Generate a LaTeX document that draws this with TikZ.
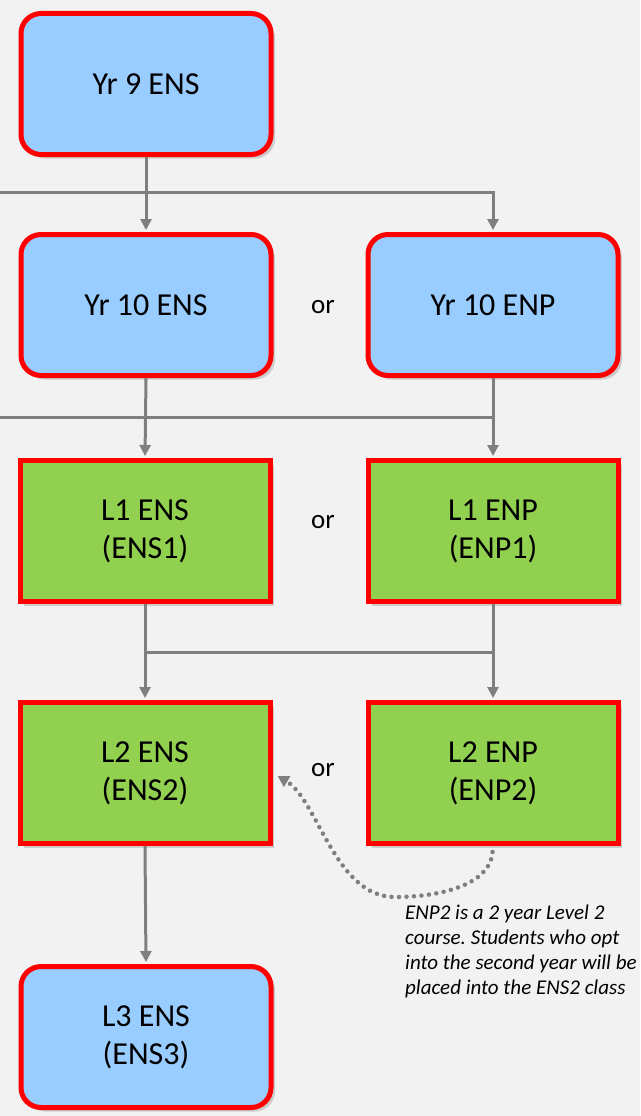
\documentclass[tikz,border=0pt]{standalone}
\usepackage{fontspec}
\setmainfont{Carlito}
\usetikzlibrary{arrows.meta,shadows}
\definecolor{bg}{HTML}{F2F2F2}
\definecolor{boxblue}{HTML}{99CCFF}
\definecolor{boxgreen}{HTML}{92D050}
\definecolor{boxred}{HTML}{FF0000}
\definecolor{linegray}{HTML}{7F7F7F}
\definecolor{dotgray}{HTML}{7F7F7F}
\frenchspacing
\tikzset{
  base/.style={draw=boxred, line width=5pt, minimum width=250pt, minimum height=141pt,
    align=center, font=\fontsize{32}{38}\selectfont, inner sep=0pt,
    drop shadow={shadow xshift=4pt, shadow yshift=-4pt, fill=black!20, opacity=1}},
  bluebox/.style={base, fill=boxblue, rounded corners=20pt},
  greenbox/.style={base, fill=boxgreen},
  conn/.style={draw=linegray, line width=3pt, -{Triangle[width=11pt,length=11pt]}},
  plain/.style={draw=linegray, line width=3pt},
  ortext/.style={font=\fontsize{27}{32}\selectfont},
  note/.style={font=\itshape\fontsize{21}{25}\selectfont, align=left, anchor=north west, inner sep=0pt},
  dotted arrow/.style={draw=dotgray, line width=4.5pt, line cap=round, dash pattern=on 0pt off 7.5pt,
    -{Triangle[width=12pt,length=11pt]}}
}
\begin{document}
\begin{tikzpicture}[x=1pt,y=-1pt]
\fill[bg] (0,0) rectangle (640,1116);
\useasboundingbox (0,0) rectangle (640,1116);
\begin{scope}
\clip (0,0) rectangle (640,1116);
\node[bluebox] (y9) at (146,84) {Yr 9 ENS};
\node[bluebox] (y10s) at (146,305) {Yr 10 ENS};
\node[bluebox] (y10p) at (493,305) {Yr 10 ENP};
\node[greenbox] (l1s) at (145,531) {L1 ENS\\(ENS1)};
\node[greenbox] (l1p) at (493,531) {L1 ENP\\(ENP1)};
\node[greenbox] (l2s) at (145,773) {L2 ENS\\(ENS2)};
\node[greenbox] (l2p) at (493,773) {L2 ENP\\(ENP2)};
\node[bluebox] (l3) at (146,1037) {L3 ENS\\(ENS3)};

\node[ortext] (or1) at (323,307) {or};
\node[ortext] (or2) at (323,522) {or};
\node[ortext] (or3) at (323,770) {or};

\coordinate (h1) at (0,192);
\coordinate (h2) at (0,417);
\coordinate (h3) at (146,652);

\draw[conn, shorten >=2pt] (y9.south) -- (y10s.north);
\draw[conn, shorten >=2pt] (h1) -| (y10p.north);
\draw[plain] (h2) -- (h2 -| y10p.south);
\draw[conn, shorten >=2pt] (y10s.south) -- (l1s.north);
\draw[conn, shorten >=2pt] (y10p.south) -- (l1p.north);
\draw[plain] (h3) -- (h3 -| l1p.south);
\draw[conn, shorten >=2pt] (l1s.south) -- (l2s.north);
\draw[conn, shorten >=2pt] (l1p.south) -- (l2p.north);
\draw[conn, shorten >=2pt] (l2s.south) -- (l3.north);

\draw[dotted arrow, shorten <=6pt, shorten >=6pt] (l2p.south) .. controls (490,885) and (440,897) .. (395,897)
   .. controls (335,897) and (318,800) .. (l2s.east);

\node[note] (n) at (405,905) {ENP2 is a 2 year Level 2\\course. Students who opt\\into the second year will be\\placed into the ENS2 class};
\end{scope}
\end{tikzpicture}
\end{document}
